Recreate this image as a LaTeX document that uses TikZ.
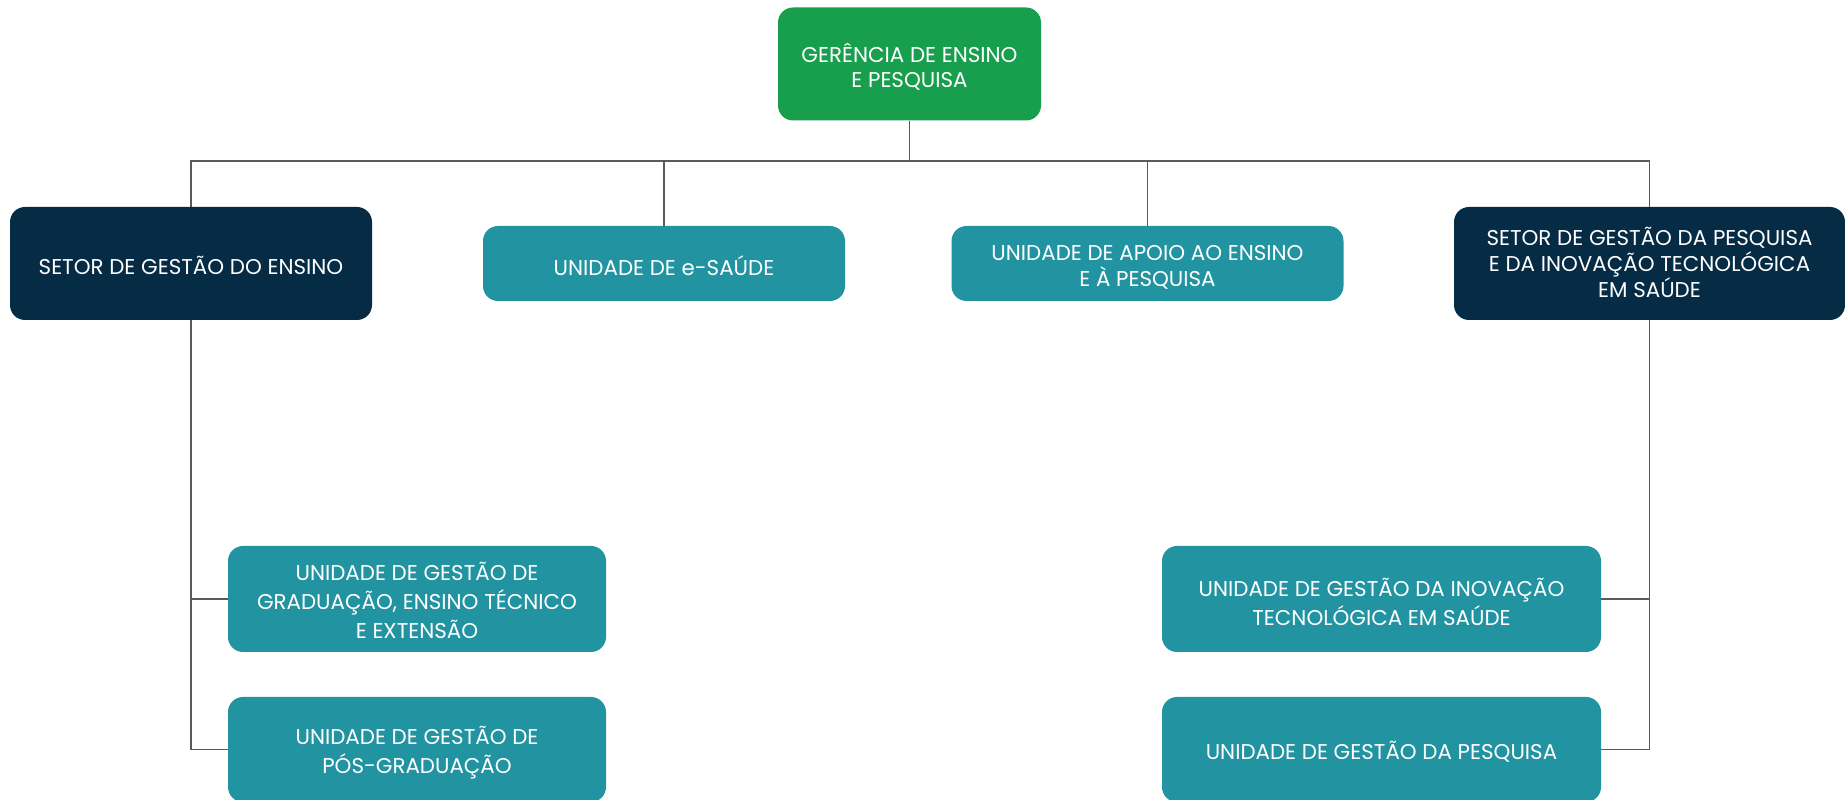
\documentclass[tikz,border=0pt]{standalone}
\usepackage{fontspec}
\setmainfont{Poppins}
\definecolor{cgreen}{HTML}{189F4D}
\definecolor{cnavy}{HTML}{052B45}
\definecolor{cteal}{HTML}{2193A1}
\definecolor{cline}{HTML}{5A5A5A}
\begin{document}
\begin{tikzpicture}[x=1pt,y=1pt,
  box/.style={rectangle, rounded corners=15pt, draw=none, inner sep=0pt},
  topbox/.style={box, fill=cgreen},
  setorbox/.style={box, fill=cnavy},
  unitbox/.style={box, fill=cteal},
  txt/.style={text=white, align=center, inner sep=0pt, font=\fontsize{21.4}{26}\selectfont},
  txtlow/.style={txt, font=\fontsize{21.4}{29}\selectfont},
  conn/.style={draw=cline, line width=1.4pt}]
\useasboundingbox (0,0) rectangle (1845,800);
\fill[white] (0,0) rectangle (1845,800);

% boxes
\node[topbox, minimum width=263pt, minimum height=113pt] (top) at (909.5,736) {};
\node[setorbox, minimum width=362pt, minimum height=113pt] (ensino) at (191,536.5) {};
\node[unitbox, minimum width=362pt, minimum height=75pt] (esaude) at (664,536.5) {};
\node[unitbox, minimum width=392pt, minimum height=75pt] (apoio) at (1147.5,536.5) {};
\node[setorbox, minimum width=391pt, minimum height=113pt] (setpesq) at (1649.5,536.5) {};
\node[unitbox, minimum width=378pt, minimum height=106pt] (grad) at (417,201) {};
\node[unitbox, minimum width=378pt, minimum height=105pt] (pos) at (417,50.5) {};
\node[unitbox, minimum width=439pt, minimum height=106pt] (inov) at (1381.5,201) {};
\node[unitbox, minimum width=439pt, minimum height=105pt] (pesq) at (1381.5,50.5) {};

% texts
\node[txt, font=\fontsize{21.4}{25}\selectfont] (topT) at ([yshift=-3pt]top.center) {GERÊNCIA DE ENSINO\\E PESQUISA};
\node[txt] (ensinoT) at ([yshift=-2.2pt]ensino.center) {SETOR DE GESTÃO DO ENSINO};
\node[txt] (esaudeT) at ([yshift=-2.2pt]esaude.center) {UNIDADE DE e-SAÚDE};
\node[txt] (apoioT) at ([yshift=-4.3pt]apoio.center) {UNIDADE DE APOIO AO ENSINO\\E À PESQUISA};
\node[txt] (setpesqT) at ([yshift=0.8pt]setpesq.center) {SETOR DE GESTÃO DA PESQUISA\\E DA INOVAÇÃO TECNOLÓGICA\\EM SAÚDE};
\node[txtlow] (gradT) at ([yshift=-1pt]grad.center) {UNIDADE DE GESTÃO DE\\GRADUAÇÃO, ENSINO TÉCNICO\\E EXTENSÃO};
\node[txtlow] (posT) at ([yshift=-3pt]pos.center) {UNIDADE DE GESTÃO DE\\PÓS-GRADUAÇÃO};
\node[txtlow] (inovT) at ([yshift=-2.5pt]inov.center) {UNIDADE DE GESTÃO DA INOVAÇÃO\\TECNOLÓGICA EM SAÚDE};
\node[txt] (pesqT) at ([yshift=-2.5pt]pesq.center) {UNIDADE DE GESTÃO DA PESQUISA};

% connectors
\coordinate (bus) at (0,639);
\draw[conn] (top.south) -- (top.south |- bus);
\draw[conn] (ensino.north) |- (setpesq.north |- bus) -- (setpesq.north);
\draw[conn] (esaude.north) -- (esaude.north |- bus);
\draw[conn] (apoio.north) -- (apoio.north |- bus);
\draw[conn] (ensino.south) |- (pos.west);
\draw[conn] (ensino.south |- grad.west) -- (grad.west);
\draw[conn] (setpesq.south) |- (pesq.east);
\draw[conn] (setpesq.south |- inov.east) -- (inov.east);
\end{tikzpicture}
\end{document}
